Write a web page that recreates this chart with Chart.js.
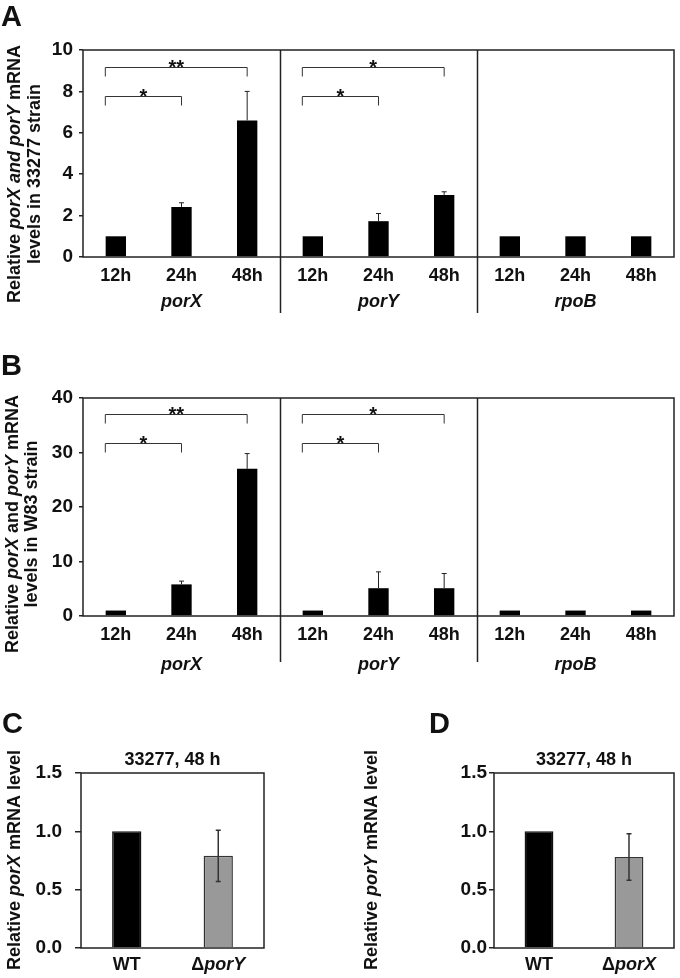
<!DOCTYPE html>
<html><head><meta charset="utf-8">
<script src="https://cdn.jsdelivr.net/npm/chart.js@4.4.1/dist/chart.umd.min.js"></script>
<style>
html,body{margin:0;padding:0;background:#fff;}
#wrap{position:relative;width:680px;height:978px;overflow:hidden;background:#fff;}
canvas{position:absolute;}
</style></head><body>
<div id="wrap">
<canvas id="cA" width="680" height="330" style="left:0;top:0"></canvas>
<canvas id="cB" width="680" height="350" style="left:0;top:330px"></canvas>
<canvas id="cC" width="340" height="298" style="left:0;top:680px"></canvas>
<canvas id="cD" width="340" height="298" style="left:340px;top:680px"></canvas>
</div>
<script>
// ---------- data ----------
const timepoints = ['12h', '24h', '48h'];
const genes = ['porX', 'porY', 'rpoB'];
const valuesA = [1.0, 2.42, 6.6, 1.0, 1.73, 3.0, 1.0, 1.0, 1.0];
const errTopA = [null, 2.62, 8.0, null, 2.1, 3.15, null, null, null];
const valuesB = [1.0, 5.8, 27.0, 1.0, 5.1, 5.1, 1.0, 1.0, 1.0];
const errTopB = [null, 6.4, 29.8, null, 8.1, 7.8, null, null, null];
const yTicksA = [0, 2, 4, 6, 8, 10];
const yTicksB = [0, 10, 20, 30, 40];
const sigFrom = [0, 0, 3, 3];
const sigTo = [1, 2, 4, 5];
const sigLevelA = [7.8, 9.2, 7.8, 9.2];
const sigLevelB = [31.7, 37.0, 31.7, 37.0];
const sigLabelA = ['*', '**', '*', '*'];
const sigLabelB = ['*', '**', '*', '*'];
const strainsC = ['WT', 'ΔporY'];
const valuesC = [1.0, 0.79];
const errC = [0, 0.22];
const strainsD = ['WT', 'ΔporX'];
const valuesD = [1.0, 0.78];
const errD = [0, 0.20];
const yTicksCD = [0, 0.5, 1.0, 1.5];

// ---------- helpers ----------
const FAM = "'Liberation Sans', Arial, Helvetica, sans-serif";
function fnt(size, italic) { return (italic ? 'italic ' : '') + 'bold ' + size + 'px ' + FAM; }
function drawRich(ctx, segs, size, cx, cy) {
  let total = 0;
  segs.forEach(s => { ctx.font = fnt(size, s[1]); total += ctx.measureText(s[0]).width; });
  let x = cx - total / 2;
  ctx.textAlign = 'left'; ctx.textBaseline = 'middle';
  segs.forEach(s => { ctx.font = fnt(size, s[1]); ctx.fillText(s[0], x, cy); x += ctx.measureText(s[0]).width; });
}
function drawRichRot(ctx, segs, size, cx, cy) {
  ctx.save(); ctx.translate(cx, cy); ctx.rotate(-Math.PI / 2);
  drawRich(ctx, segs, size, 0, 0); ctx.restore();
}
function richLabel(s) {
  if (s.startsWith('Δ')) return [['Δ', false], [s.slice(1), true]];
  return [[s, false]];
}

const deco = {
  id: 'deco',
  afterDatasetsDraw(chart, args, o) {
    const ctx = chart.ctx, a = chart.chartArea, xs = chart.scales.x, ys = chart.scales.y;
    const meta = chart.getDatasetMeta(0);
    ctx.save();
    ctx.fillStyle = '#111';
    // error bars
    ctx.strokeStyle = o.errColor; ctx.lineWidth = o.errWidth;
    o.errHigh.forEach((hi, i) => {
      if (hi == null) return;
      const bx = meta.data[i].x;
      const yHi = ys.getPixelForValue(hi);
      const yLo = o.errLow ? ys.getPixelForValue(o.errLow[i]) : meta.data[i].y;
      ctx.beginPath();
      ctx.moveTo(bx, yLo); ctx.lineTo(bx, yHi);
      ctx.moveTo(bx - o.cap, yHi); ctx.lineTo(bx + o.cap, yHi);
      if (o.errLow) { ctx.moveTo(bx - o.cap, yLo); ctx.lineTo(bx + o.cap, yLo); }
      ctx.stroke();
    });
    // box
    ctx.strokeStyle = '#222'; ctx.lineWidth = 1.5;
    ctx.strokeRect(a.left, a.top, a.right - a.left, a.bottom - a.top);
    // dividers
    (o.dividers || []).forEach(d => {
      const px = Math.round(xs.getPixelForValue(d)) + 0.5;
      ctx.beginPath(); ctx.moveTo(px, a.top); ctx.lineTo(px, a.bottom + o.dividerDrop); ctx.stroke();
    });
    // brackets
    if (o.sig) {
      ctx.strokeStyle = '#333'; ctx.lineWidth = 1;
      o.sig.from.forEach((f, k) => {
        const x1 = xs.getPixelForValue(f - 0.16), x2 = xs.getPixelForValue(o.sig.to[k]);
        const yl = Math.round(ys.getPixelForValue(o.sig.level[k])) + 0.5;
        ctx.beginPath();
        ctx.moveTo(x1, yl + 9); ctx.lineTo(x1, yl); ctx.lineTo(x2, yl); ctx.lineTo(x2, yl + 9);
        ctx.stroke();
        ctx.font = fnt(20, false); ctx.textAlign = 'center'; ctx.textBaseline = 'alphabetic';
        ctx.fillText(o.sig.label[k], (x1 + x2) / 2, yl + 6);
      });
    }
    // group labels
    if (o.groups) {
      o.groups.forEach((g, gi) => {
        drawRich(ctx, [[g, true]], 18, xs.getPixelForValue(gi * 3 + 1), o.groupY);
      });
    }
    // custom x labels
    if (o.xLabels) {
      o.xLabels.forEach((l, i) => drawRich(ctx, richLabel(l), 18, xs.getPixelForValue(i), o.xLabelY));
    }
    // y title
    o.yTitle.forEach((line, li) => drawRichRot(ctx, line, 18, o.yTitleX[li], o.yTitleY));
    // chart title
    if (o.title) drawRich(ctx, [[o.title, false]], 18, (a.left + a.right) / 2, o.titleY);
    // panel letter
    ctx.font = fnt(29, false); ctx.textAlign = 'left'; ctx.textBaseline = 'alphabetic';
    ctx.fillText(o.letter[0], o.letter[1], o.letter[2]);
    ctx.restore();
  }
};

function yAxis(ticks, max, width, tickLen, pad, fmt) {
  return {
    type: 'linear', min: 0, max: max,
    grid: { display: true, drawOnChartArea: false, drawTicks: true, tickLength: tickLen, color: '#222', lineWidth: 1.5 },
    border: { display: false },
    ticks: { color: '#111', padding: pad, font: { family: FAM, size: 19, weight: 'bold' }, callback: fmt },
    afterBuildTicks: s => { s.ticks = ticks.map(v => ({ value: v })); },
    afterFit: s => { s.width = width; }
  };
}

function panelAB(id, values, errTop, yTicks, max, xHeight, padTop, sigLevel, sigLabel, yTitle, yTitleX, yTitleY, groupY, dividerDrop, letter) {
  const labels = genes.flatMap(g => timepoints.map(t => g + ' ' + t));
  return new Chart(document.getElementById(id), {
    type: 'bar',
    data: { labels: labels, datasets: [{ data: values, backgroundColor: '#000', borderWidth: 0, barPercentage: 0.31, categoryPercentage: 1.0 }] },
    options: {
      responsive: false, animation: false, devicePixelRatio: 1,
      layout: { padding: { left: 0, right: 6, top: padTop, bottom: 0 } },
      plugins: {
        legend: { display: false }, tooltip: { enabled: false },
        deco: {
          errHigh: errTop, errColor: '#222', errWidth: 1, cap: 2.5,
          dividers: [2.5, 5.5], dividerDrop: dividerDrop,
          sig: { from: sigFrom, to: sigTo, level: sigLevel, label: sigLabel },
          groups: genes, groupY: groupY,
          yTitle: yTitle, yTitleX: yTitleX, yTitleY: yTitleY, letter: letter
        }
      },
      scales: {
        x: {
          type: 'category', offset: true,
          grid: { display: false, drawTicks: false }, border: { display: false },
          ticks: { color: '#111', padding: 8, maxRotation: 0, autoSkip: false, font: { family: FAM, size: 18, weight: 'bold' },
            callback: (v, i) => timepoints[i % timepoints.length] },
          afterFit: s => { s.height = xHeight; }
        },
        y: yAxis(yTicks, max, 83, 4, 6, v => String(v))
      }
    },
    plugins: [deco]
  });
}

panelAB('cA', valuesA, errTopA, yTicksA, 10, 73, 50, sigLevelA, sigLabelA,
  [[['Relative ', false], ['porX and porY', true], [' mRNA', false]], [['levels in 33277 strain', false]]],
  [15, 35], 174, 302, 56, ['A', 1, 26]);

panelAB('cB', valuesB, errTopB, yTicksB, 40, 64, 68, sigLevelB, sigLabelB,
  [[['Relative ', false], ['porX', true], [' and ', false], ['porY', true], [' mRNA', false]], [['levels in W83 strain', false]]],
  [13, 32], 194, 335, 46, ['B', 1, 45]);

function panelCD(id, strains, values, err, padRight, yWidth, tickLen, tickPad, yTitle, yTitleX, letter) {
  return new Chart(document.getElementById(id), {
    type: 'bar',
    data: { labels: strains, datasets: [{ data: values, backgroundColor: ['#000', '#999'], borderColor: ['#111', '#333'], borderWidth: 1.5, barPercentage: 0.32, categoryPercentage: 1.0 }] },
    options: {
      responsive: false, animation: false, devicePixelRatio: 1,
      layout: { padding: { left: 0, right: padRight, top: 93, bottom: 0 } },
      plugins: {
        legend: { display: false }, tooltip: { enabled: false },
        deco: {
          errHigh: values.map((v, i) => err[i] ? v + err[i] : null),
          errLow: values.map((v, i) => v - err[i]),
          errColor: '#333', errWidth: 1.5, cap: 2.5,
          xLabels: strains, xLabelY: 285,
          yTitle: yTitle, yTitleX: yTitleX, yTitleY: 180,
          title: '33277, 48 h', titleY: 80, letter: letter
        }
      },
      scales: {
        x: {
          type: 'category', offset: true,
          grid: { display: false, drawTicks: false }, border: { display: false },
          ticks: { display: false },
          afterFit: s => { s.height = 30; }
        },
        y: yAxis(yTicksCD, 1.5, yWidth, tickLen, tickPad, v => v.toFixed(1))
      }
    },
    plugins: [deco]
  });
}

panelCD('cC', strainsC, valuesC, errC, 76, 81, 6, 13,
  [[['Relative ', false], ['porX', true], [' mRNA level', false]]], [15], ['C', 2, 53]);
panelCD('cD', strainsD, valuesD, errD, 6, 154, 5, 2,
  [[['Relative ', false], ['porY', true], [' mRNA level', false]]], [32], ['D', 89, 53]);
</script>
</body></html>
